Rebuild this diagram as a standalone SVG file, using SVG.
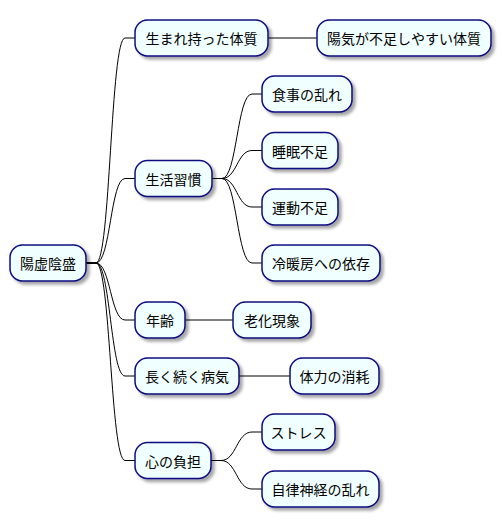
<svg xmlns="http://www.w3.org/2000/svg" width="502" height="527" viewBox="0 0 502 527">
<defs>
<filter id="sh" x="-20%" y="-30%" width="150%" height="180%">
<feDropShadow dx="3" dy="3" stdDeviation="1.8" flood-color="#000" flood-opacity="0.35"/>
</filter>
<style>
.n rect{fill:#F0FFFF;stroke:#0A0A80;stroke-width:1.5;filter:url(#sh)}
.n text{font-family:"Noto Sans CJK JP","Noto Sans CJK SC",sans-serif;font-size:14px;fill:#000;text-anchor:middle;dominant-baseline:central}
.c path{fill:none;stroke:#000;stroke-width:1}
</style>
</defs>
<rect width="502" height="527" fill="#fff"/>
<g class="c">
<path d="M86,263 L96,263 C110.5,263 110.5,38 125,38 L135,38"/>
<path d="M86,263 L96,263 C110.5,263 110.5,178.5 125,178.5 L135,178.5"/>
<path d="M86,263 L96,263 C110.5,263 110.5,320 125,320 L135,320"/>
<path d="M86,263 L96,263 C110.5,263 110.5,376 125,376 L135,376"/>
<path d="M86,263 L96,263 C110.5,263 110.5,460.5 125,460.5 L135,460.5"/>
<path d="M268,38 L317,38"/>
<path d="M212,178.5 L222,178.5 C237,178.5 237,94 252,94 L262,94"/>
<path d="M212,178.5 L222,178.5 C237,178.5 237,150.5 252,150.5 L262,150.5"/>
<path d="M212,178.5 L222,178.5 C237,178.5 237,207 252,207 L262,207"/>
<path d="M212,178.5 L222,178.5 C237,178.5 237,263 252,263 L262,263"/>
<path d="M185,320 L233,320"/>
<path d="M239,376 L290,376"/>
<path d="M211,460.5 L221,460.5 C236.5,460.5 236.5,432 252,432 L262,432"/>
<path d="M211,460.5 L221,460.5 C236.5,460.5 236.5,489 252,489 L262,489"/>
</g>
<g id="root" class="n"><rect x="10" y="245" width="76" height="36" rx="12.5"/><text x="48" y="263">陽虚陰盛</text></g>
<g id="n1" class="n"><rect x="135" y="20" width="133" height="36" rx="12.5"/><text x="201.5" y="38">生まれ持った体質</text></g>
<g id="n1a" class="n"><rect x="317" y="20" width="174" height="36" rx="12.5"/><text x="404" y="38">陽気が不足しやすい体質</text></g>
<g id="n2" class="n"><rect x="135" y="160.5" width="77" height="36" rx="12.5"/><text x="173.5" y="178.5">生活習慣</text></g>
<g id="n2a" class="n"><rect x="262" y="76" width="90" height="36" rx="12.5"/><text x="307" y="94">食事の乱れ</text></g>
<g id="n2b" class="n"><rect x="262" y="132.5" width="76" height="36" rx="12.5"/><text x="300" y="150.5">睡眠不足</text></g>
<g id="n2c" class="n"><rect x="262" y="189" width="76" height="36" rx="12.5"/><text x="300" y="207">運動不足</text></g>
<g id="n2d" class="n"><rect x="262" y="245" width="118" height="36" rx="12.5"/><text x="321" y="263">冷暖房への依存</text></g>
<g id="n3" class="n"><rect x="135" y="302" width="50" height="36" rx="12.5"/><text x="160" y="320">年齢</text></g>
<g id="n3a" class="n"><rect x="233" y="302" width="78" height="36" rx="12.5"/><text x="272" y="320">老化現象</text></g>
<g id="n4" class="n"><rect x="135" y="358" width="104" height="36" rx="12.5"/><text x="187" y="376">長く続く病気</text></g>
<g id="n4a" class="n"><rect x="290" y="358" width="89" height="36" rx="12.5"/><text x="334.5" y="376">体力の消耗</text></g>
<g id="n5" class="n"><rect x="135" y="442.5" width="76" height="36" rx="12.5"/><text x="173" y="460.5">心の負担</text></g>
<g id="n5a" class="n"><rect x="262" y="414" width="73" height="36" rx="12.5"/><text x="298.5" y="432">ストレス</text></g>
<g id="n5b" class="n"><rect x="262" y="471" width="117" height="36" rx="12.5"/><text x="320.5" y="489">自律神経の乱れ</text></g>
</svg>
